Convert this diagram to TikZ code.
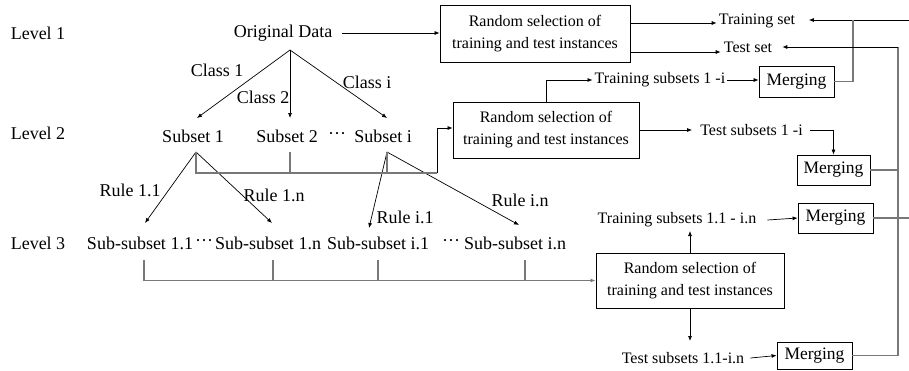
\documentclass[tikz,border=0pt]{standalone}
\usepackage{fontspec}
\setmainfont{Liberation Serif}
\usetikzlibrary{arrows.meta,calc}
\definecolor{lg}{RGB}{120,120,120}
\begin{document}
\begin{tikzpicture}[x=1pt,y=-1pt,
  big/.style={font=\fontsize{18}{20}\selectfont, inner sep=0pt},
  small/.style={font=\fontsize{16}{20}\selectfont, inner sep=0pt},
  box/.style={draw, line width=0.8pt, align=center, inner sep=0pt, font=\fontsize{16}{22}\selectfont},
  mbox/.style={draw, line width=0.8pt, inner sep=0pt, font=\fontsize{17.5}{20}\selectfont},
  arr/.style={-{Latex[length=5pt,width=4pt]}, line width=0.7pt},
  ln/.style={line width=0.7pt},
  gl/.style={draw=lg, line width=1.1pt},
  glarr/.style={draw=lg, line width=1.1pt, -{Latex[length=5pt,width=4pt]}}]
\useasboundingbox (0,0) rectangle (909,370);

% level labels
\node[big] (L1) at (38,33) {Level 1};
\node[big] (L2) at (38,133) {Level 2};
\node[big] (L3) at (38,243) {Level 3};

% tree
\node[big] (OD) at (283,33) {Original Data};
\node[big] (C1) at (217,70) {Class 1};
\node[big] (C2) at (263,97) {Class 2};
\node[big] (Ci) at (367,82) {Class i};
\node[big] (S1) at (193,136) {Subset 1};
\node[big] (S2) at (287,136) {Subset 2};
\node[big] (D1) at (337,136) {···};
\node[big] (Si) at (383,136) {Subset i};
\node[big] (R11) at (130,190) {Rule 1.1};
\node[big] (R1n) at (274,195) {Rule 1.n};
\node[big] (Ri1) at (405,217) {Rule i.1};
\node[big] (Rin) at (520,200) {Rule i.n};
\node[big] (SS11) at (140,243) {Sub-subset 1.1};
\node[big] (D2) at (204,243) {···};
\node[big] (SS1n) at (268,243) {Sub-subset 1.n};
\node[big] (SSi1) at (378,243) {Sub-subset i.1};
\node[big] (D3) at (451,243) {···};
\node[big] (SSin) at (515,243) {Sub-subset i.n};

% boxes
\node[box, minimum width=190pt, minimum height=57pt] (B1) at (535,33.5) {Random selection of\\training and test instances};
\node[box, minimum width=186pt, minimum height=56pt] (B2) at (546,130) {Random selection of\\training and test instances};
\node[box, minimum width=188pt, minimum height=55pt] (B3) at (690,280.5) {Random selection of\\training and test instances};

% right labels
\node[small] (TS) at (757,21) {Training set};
\node[small] (TeS) at (748,47) {Test set};
\node[small] (TS1i) at (660,80) {Training subsets 1 -i};
\node[small] (TeS1i) at (751.5,130) {Test subsets 1 -i};
\node[small] (TS11) at (677,220) {Training subsets 1.1 - i.n};
\node[small] (TeS11) at (683,358) {Test subsets 1.1-i.n};

% merging boxes
\node[mbox, minimum width=75pt, minimum height=31pt] (M1) at (796.5,81.5) {Merging};
\node[mbox, minimum width=73pt, minimum height=30pt] (M2) at (833.5,170) {Merging};
\node[mbox, minimum width=75pt, minimum height=30pt] (M3) at (835.5,218) {Merging};
\node[mbox, minimum width=75pt, minimum height=27pt] (M4) at (814.5,355.5) {Merging};

% coordinates
\coordinate (apex) at (290,50);
\coordinate (e1) at (197,118);
\coordinate (e2) at (290,118);
\coordinate (e3) at (387,118);
\coordinate (j1) at (196,152);
\coordinate (j2) at (290,152);
\coordinate (j3) at (387,152);
\coordinate (f1) at (145,223);
\coordinate (f2) at (272,223);
\coordinate (f3) at (369,228);
\coordinate (f4) at (519,225);
\coordinate (k1) at (144,260);
\coordinate (k2) at (273,260);
\coordinate (k3) at (378,260);
\coordinate (k4) at (525,260);
\coordinate (rTS) at (909,20);
\coordinate (rM3) at (909,218);
\coordinate (vT) at (898,47);

% level 1 connectors
\draw[arr] ([xshift=10pt]OD.east) -- (B1.west |- OD.center);
\draw[arr] (apex) -- (e1);
\draw[arr] (apex) -- (e2);
\draw[arr] (apex) -- (e3);

% level 2 connectors
\draw[arr] (j1) -- (f1);
\draw[arr] (j1) -- (f2);
\draw[arr] (j3) -- (f3);
\draw[arr] (j3) -- (f4);
\draw[gl] (j1) -- (196,173) -- (437,173);
\draw[arr] (437,173) -- (437,128) -- (B2.west |- 0,128);
\draw[gl] (j2) -- (290,173);
\draw[gl] (j3) -- (387,173);

% level 3 connectors
\draw[glarr] (k1) |- (B3.west);
\draw[gl] (k2) -- (k2 |- B3.west);
\draw[gl] (k3) -- (k3 |- B3.west);
\draw[gl] (k4) -- (k4 |- B3.west);

% box 1 outputs
\draw[arr] (B1.east |- 0,23) -- ([xshift=-2pt]TS.west |- 0,23);
\draw[arr] (B1.east |- 0,52) -- ([xshift=-3pt]TeS.west |- 0,52);

% box 2 outputs
\draw[arr] (B2.north) |- ([xshift=-2pt]TS1i.west);
\draw[arr] ([xshift=2pt]TS1i.east) -- (M1.west |- TS1i.center);
\draw[arr] (B2.east) -- ([xshift=-8pt]TeS1i.west);
\draw[arr] ([xshift=7pt]TeS1i.east) -| (M2.north);

% box 3 outputs
\draw[arr] (B3.north) -- (B3.north |- 0,231);
\draw[arr] ([xshift=11pt]TS11.east) -- (M3.west);
\draw[arr] (B3.south) -- (B3.south |- 0,341);
\draw[arr] ([xshift=6pt]TeS11.east) -- (M4.west);

% feedback lines
\draw[arr] (rTS) -- ([xshift=13.5pt]TS.east |- rTS);
\draw[gl] (M1.east) -| (853,20);
\draw[gl] (M4.east) -| (vT);
\draw[gl] (M2.east) -- (M2.east -| vT);
\draw[arr] (vT) -- ([xshift=10pt]TeS.east |- vT);
\draw[gl] (M3.east) -- (rM3);
\end{tikzpicture}
\end{document}
